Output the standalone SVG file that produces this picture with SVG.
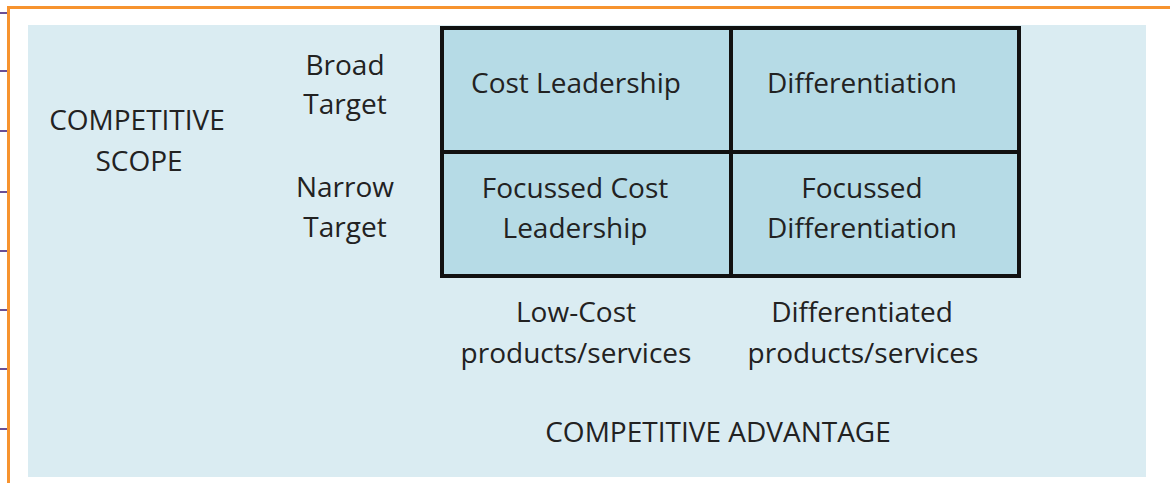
<svg xmlns="http://www.w3.org/2000/svg" width="1170" height="483" viewBox="0 0 1170 483">
<style>
text{font-family:"Open Sans","Noto Sans","Liberation Sans",sans-serif;font-size:28px;fill:#222;text-anchor:middle}
.cell{fill:#b6dbe6}
.grid{stroke:#111;stroke-width:4;fill:none}
.tick{stroke:#6a4f96;stroke-width:2}
</style>
<rect x="0" y="0" width="1170" height="483" fill="#ffffff"/>
<g id="frame">
<line x1="7" y1="7.5" x2="1170" y2="7.5" stroke="#f7932f" stroke-width="3"/>
<line x1="8.5" y1="6" x2="8.5" y2="483" stroke="#f7932f" stroke-width="3"/>
<g class="tick">
<line x1="0" y1="13" x2="7" y2="13"/>
<line x1="0" y1="71" x2="7" y2="71"/>
<line x1="0" y1="131" x2="7" y2="131"/>
<line x1="0" y1="192" x2="7" y2="192"/>
<line x1="0" y1="251" x2="7" y2="251"/>
<line x1="0" y1="310" x2="7" y2="310"/>
<line x1="0" y1="369" x2="7" y2="369"/>
<line x1="0" y1="429" x2="7" y2="429"/>
</g>
</g>
<rect id="panel" x="28" y="25" width="1118" height="452" fill="#daecf2"/>
<g id="axis-labels">
<text x="137" y="130">COMPETITIVE</text>
<text x="139" y="171">SCOPE</text>
<text x="345" y="75">Broad</text>
<text x="345" y="114">Target</text>
<text x="345" y="197">Narrow</text>
<text x="345" y="237">Target</text>
<text x="576" y="322">Low-Cost</text>
<text x="576" y="363">products/services</text>
<text x="862" y="322">Differentiated</text>
<text x="863" y="363">products/services</text>
<text x="718" y="442">COMPETITIVE ADVANTAGE</text>
</g>
<g id="cell-cost-leadership">
<rect class="cell" x="442" y="28" width="289" height="124"/>
<text x="576" y="93">Cost Leadership</text>
</g>
<g id="cell-differentiation">
<rect class="cell" x="731" y="28" width="288" height="124"/>
<text x="862" y="93">Differentiation</text>
</g>
<g id="cell-focussed-cost">
<rect class="cell" x="442" y="152" width="289" height="124"/>
<text x="575" y="198">Focussed Cost</text>
<text x="575" y="238">Leadership</text>
</g>
<g id="cell-focussed-diff">
<rect class="cell" x="731" y="152" width="288" height="124"/>
<text x="862" y="198">Focussed</text>
<text x="862" y="238">Differentiation</text>
</g>
<g id="connectors">
<rect class="grid" x="442" y="28" width="577" height="248"/>
<line class="grid" x1="731" y1="28" x2="731" y2="276"/>
<line class="grid" x1="442" y1="152" x2="1019" y2="152"/>
</g>
</svg>
